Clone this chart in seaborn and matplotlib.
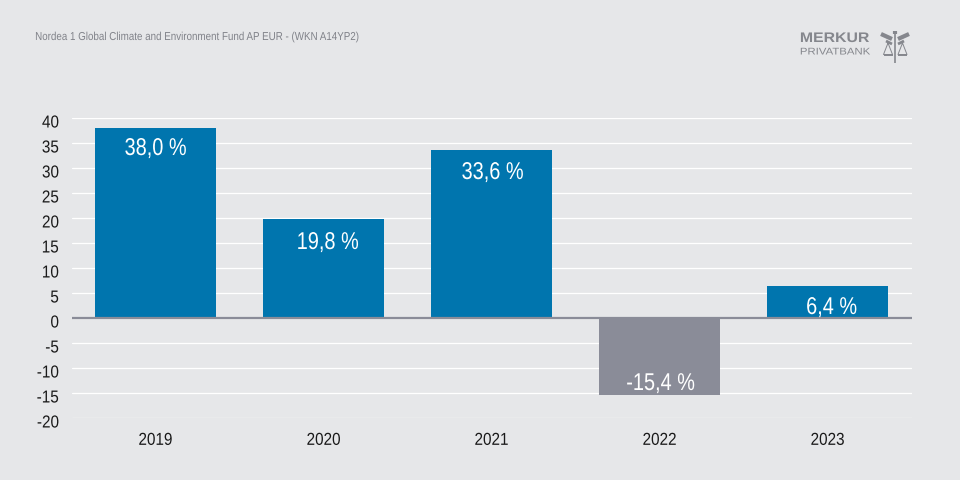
import matplotlib
matplotlib.use('Agg')
import matplotlib.pyplot as plt
import seaborn as sns
from matplotlib.lines import Line2D
from matplotlib.patheffects import AbstractPathEffect
from matplotlib.transforms import Affine2D, ScaledTranslation

years = ['2019', '2020', '2021', '2022', '2023']
returns = [38.0, 19.8, 33.6, -15.4, 6.4]
labels = ['38,0 %', '19,8 %', '33,6 %', '-15,4 %', '6,4 %']
y_ticks = list(range(-20, 45, 5))
title = 'Nordea 1 Global Climate and Environment Fund AP EUR - (WKN A14YP2)'

bg = '#e6e7e9'
blue = '#0075ae'
grey = '#8a8c98'
logo_grey = '#85878d'


# no condensed font installed, so scale the glyphs sideways around an anchor
class Squeeze(AbstractPathEffect):
    def __init__(self, factor, anchor=0.5):
        super().__init__()
        self.factor = factor
        self.anchor = anchor

    def draw_path(self, renderer, gc, tpath, affine, rgbFace=None):
        box = tpath.get_extents()
        x0 = box.x0 + box.width * self.anchor
        squeeze = Affine2D().translate(-x0, 0).scale(self.factor, 1).translate(x0, 0)
        renderer.draw_path(gc, tpath, squeeze + affine, rgbFace)


sns.set_theme(style='white')
plt.rcParams['font.family'] = ['Liberation Sans', 'DejaVu Sans']

fig = plt.figure(figsize=(9.6, 4.8), dpi=100, facecolor=bg)
ax = fig.add_axes([71.5 / 960, 1 - 418 / 480, 840 / 960, 300 / 480], facecolor=bg)

sign = ['up' if v >= 0 else 'down' for v in returns]
sns.barplot(x=years, y=returns, hue=sign, palette={'up': blue, 'down': grey},
            width=0.72, dodge=False, legend=False, saturation=1, linewidth=0,
            ax=ax, zorder=3)

ax.set_xlim(-0.5, 4.5)
ax.set_ylim(-20, 40)
ax.set_yticks(y_ticks)
ax.set_yticklabels([str(t) for t in y_ticks])
ax.grid(axis='y', color='white', linewidth=0.9, zorder=0)
ax.grid(axis='x', visible=False)
ax.set_axisbelow(True)
sns.despine(ax=ax, left=True, bottom=True)
ax.axhline(0, color=grey, linewidth=1.6, zorder=4)

ax.tick_params(axis='both', length=0, labelsize=12.5, labelcolor='#1a1a1a')
ax.tick_params(axis='y', pad=9)
ax.tick_params(axis='x', pad=10.7)
shift = ScaledTranslation(0, -3.5 / 100, fig.dpi_scale_trans)
for t in ax.get_yticklabels():
    t.set_transform(t.get_transform() + shift)
    t.set_path_effects([Squeeze(0.88, 1)])
for t in ax.get_xticklabels():
    t.set_path_effects([Squeeze(0.88)])

# value labels sit inside the bars, offsets in pixels
label_dx = [0, 4, 1, 1, 4]
label_dy = [-21, -24, -23, 11, -22]
for i, (v, lab, dx, dy) in enumerate(zip(returns, labels, label_dx, label_dy)):
    ax.annotate(lab, (i, v), xytext=(dx * 0.72, dy * 0.72), textcoords='offset points',
                ha='center', va='center', color='white', fontsize=17.5, zorder=5,
                path_effects=[Squeeze(0.82)])

fig.text(35 / 960, 1 - 37 / 480, title, fontsize=8.3, color='#808289', va='center',
         path_effects=[Squeeze(0.85, 0)])

# logo
fig.text(800 / 960, 1 - 38 / 480, 'MERKUR', fontsize=10, fontweight='bold',
         color=logo_grey, va='center', path_effects=[Squeeze(1.14, 0)])
fig.text(800 / 960, 1 - 51.5 / 480, 'PRIVATBANK', fontsize=7,
         color=logo_grey, va='center', path_effects=[Squeeze(1.17, 0)])


def px_line(xs, ys, lw=1.0):
    fig.add_artist(Line2D([x / 960 for x in xs], [1 - y / 480 for y in ys],
                          color=logo_grey, linewidth=lw, solid_capstyle='butt'))


px_line([895, 895], [31, 63], 1.2)
px_line([895, 895], [31, 33.5], 3.0)
px_line([881, 892], [34, 39], 3.0)
px_line([909, 898], [34, 39], 3.0)
px_line([886, 892], [41, 44], 2.0)
px_line([904, 898], [41, 44], 2.0)
px_line([888, 883.5, 892.5, 888], [43, 54.5, 54.5, 43], 0.7)
px_line([902.5, 898, 907, 902.5], [43, 54.5, 54.5, 43], 0.7)
px_line([883.5, 892.5], [55, 55], 1.4)
px_line([898, 907], [55, 55], 1.4)

fig.savefig('out.png', dpi=100, facecolor=bg)
